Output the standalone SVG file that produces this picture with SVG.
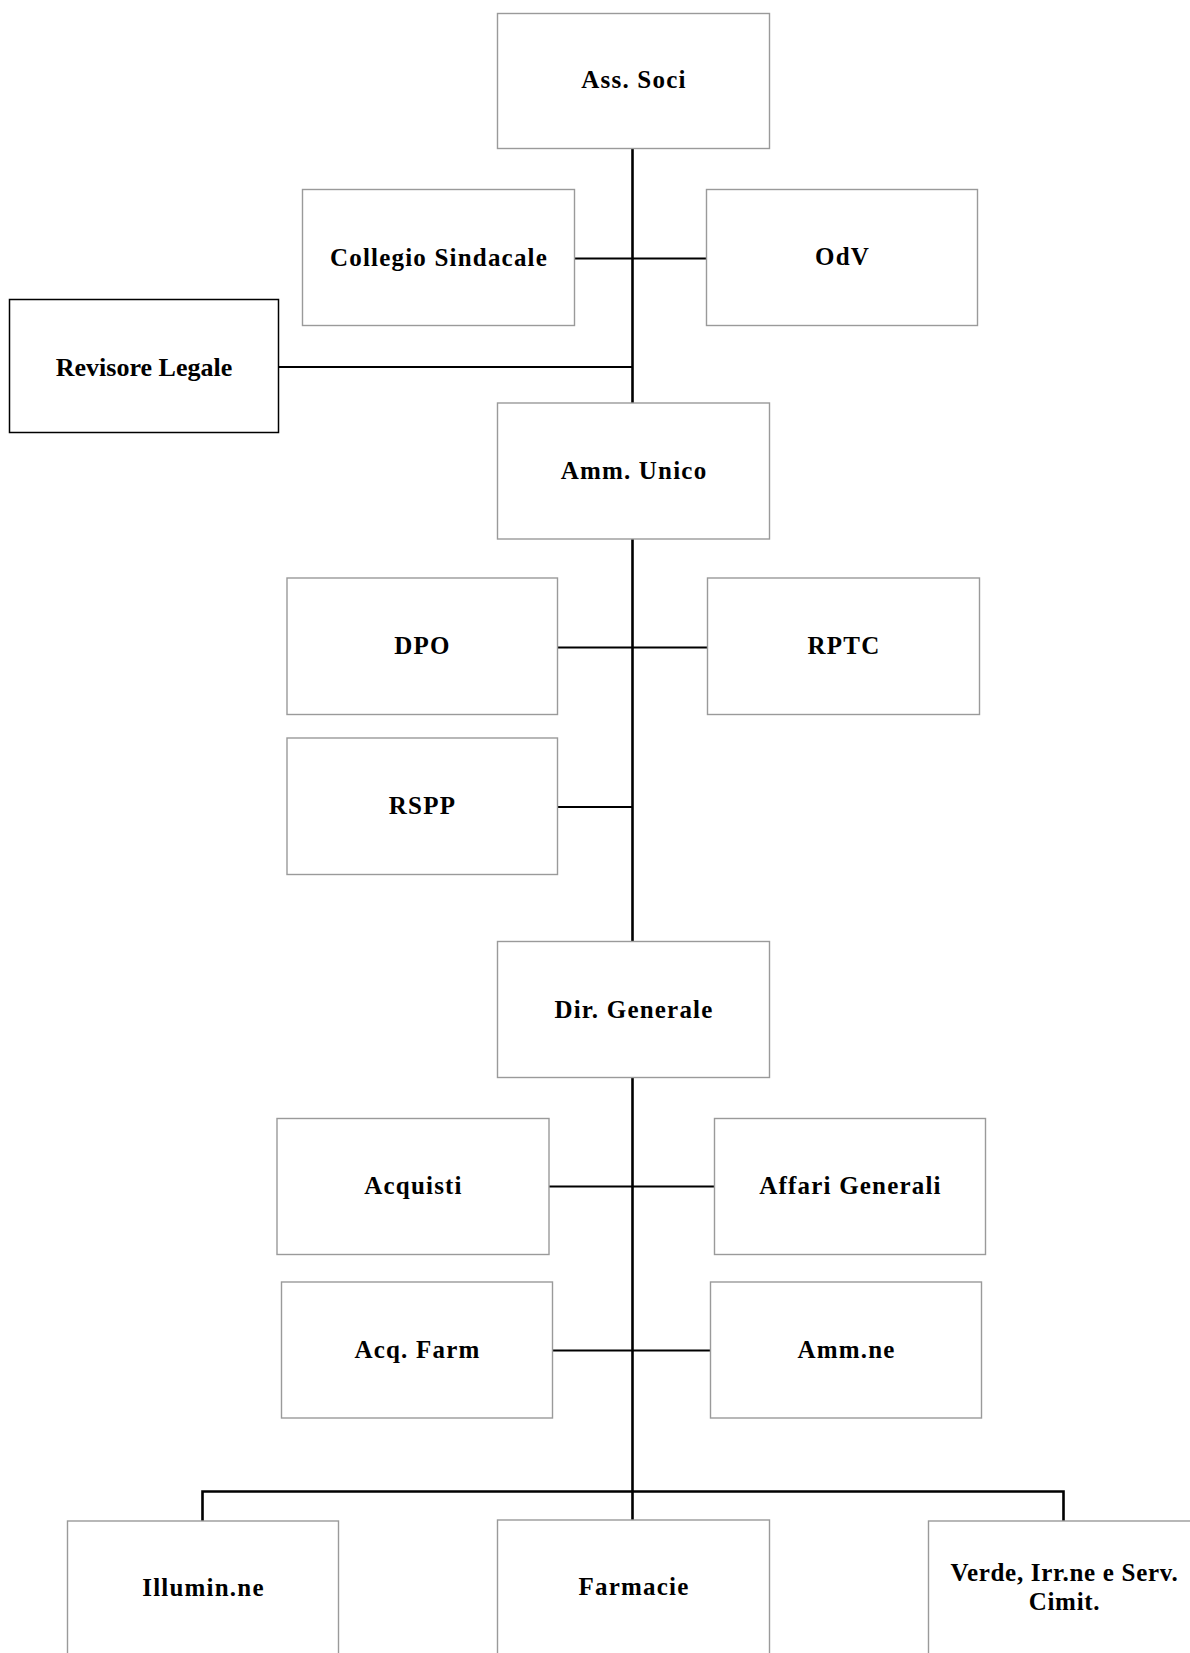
<svg xmlns="http://www.w3.org/2000/svg" width="1190" height="1653" viewBox="0 0 1190 1653">
<style>
.box{fill:#fff;stroke:#9a9a9a;stroke-width:1.4}
.boxd{fill:#fff;stroke:#000;stroke-width:1.5}
.lbl{font-family:"Liberation Serif","DejaVu Serif",serif;font-weight:bold;font-size:25px;letter-spacing:1.2px;fill:#000;text-anchor:middle}
.lbl2{font-family:"Liberation Serif","DejaVu Serif",serif;font-weight:bold;font-size:26px;fill:#000;text-anchor:middle}
.tight{letter-spacing:0.7px}
.ln{stroke:#000;stroke-width:2;fill:none}
.tr{stroke:#000;stroke-width:2.6;fill:none}
</style>
<rect width="1190" height="1653" fill="#fff"/>
<g id="connectors">
<line class="tr" x1="632.5" y1="148" x2="632.5" y2="403"/>
<line class="tr" x1="632.5" y1="538" x2="632.5" y2="942"/>
<line class="tr" x1="632.5" y1="1077" x2="632.5" y2="1521"/>
<line class="ln" x1="574" y1="258.5" x2="706" y2="258.5"/>
<line class="ln" x1="278" y1="367" x2="632.5" y2="367"/>
<line class="ln" x1="557" y1="647.5" x2="707" y2="647.5"/>
<line class="ln" x1="557" y1="807" x2="632.5" y2="807"/>
<line class="ln" x1="549" y1="1186.5" x2="714" y2="1186.5"/>
<line class="ln" x1="552" y1="1350.5" x2="710" y2="1350.5"/>
<polyline class="tr" points="202.5,1521 202.5,1491.5 1063.5,1491.5 1063.5,1521"/>
</g>
<g id="n-ass-soci"><rect class="box" x="497.5" y="13.5" width="272" height="135"/><text class="lbl" x="634" y="88">Ass. Soci</text></g>
<g id="n-collegio"><rect class="box" x="302.5" y="189.5" width="272" height="136"/><text class="lbl" x="439" y="266">Collegio Sindacale</text></g>
<g id="n-odv"><rect class="box" x="706.5" y="189.5" width="271" height="136"/><text class="lbl" x="842.5" y="265">OdV</text></g>
<g id="n-revisore"><rect class="boxd" x="9.5" y="299.5" width="269" height="133"/><text class="lbl2" x="144" y="376">Revisore Legale</text></g>
<g id="n-amm-unico"><rect class="box" x="497.5" y="403" width="272" height="136"/><text class="lbl" x="634" y="479">Amm. Unico</text></g>
<g id="n-dpo"><rect class="box" x="287" y="578" width="270.5" height="136.5"/><text class="lbl" x="422.5" y="654">DPO</text></g>
<g id="n-rptc"><rect class="box" x="707.5" y="578" width="272" height="136.5"/><text class="lbl" x="844" y="654">RPTC</text></g>
<g id="n-rspp"><rect class="box" x="287" y="738" width="270.5" height="136.5"/><text class="lbl" x="422.5" y="814">RSPP</text></g>
<g id="n-dir-gen"><rect class="box" x="497.5" y="941.5" width="272" height="136"/><text class="lbl" x="634" y="1018">Dir. Generale</text></g>
<g id="n-acquisti"><rect class="box" x="277" y="1118.5" width="272" height="136"/><text class="lbl" x="413.5" y="1194">Acquisti</text></g>
<g id="n-affari"><rect class="box" x="714.5" y="1118.5" width="271" height="136"/><text class="lbl" x="850.5" y="1194">Affari Generali</text></g>
<g id="n-acq-farm"><rect class="box" x="281.5" y="1282" width="271" height="136"/><text class="lbl" x="417.5" y="1358">Acq. Farm</text></g>
<g id="n-ammne"><rect class="box" x="710.5" y="1282" width="271" height="136"/><text class="lbl" x="846.5" y="1358">Amm.ne</text></g>
<g id="n-illumin"><rect class="box" x="67.5" y="1521" width="271" height="150"/><text class="lbl" x="203.5" y="1596">Illumin.ne</text></g>
<g id="n-farmacie"><rect class="box" x="497.5" y="1520" width="272" height="150"/><text class="lbl" x="634" y="1595">Farmacie</text></g>
<g id="n-verde"><rect class="box" x="928.5" y="1521" width="271" height="150"/><text class="lbl tight" x="1064.5" y="1581">Verde, Irr.ne e Serv.</text><text class="lbl tight" x="1064.5" y="1610">Cimit.</text></g>
</svg>
